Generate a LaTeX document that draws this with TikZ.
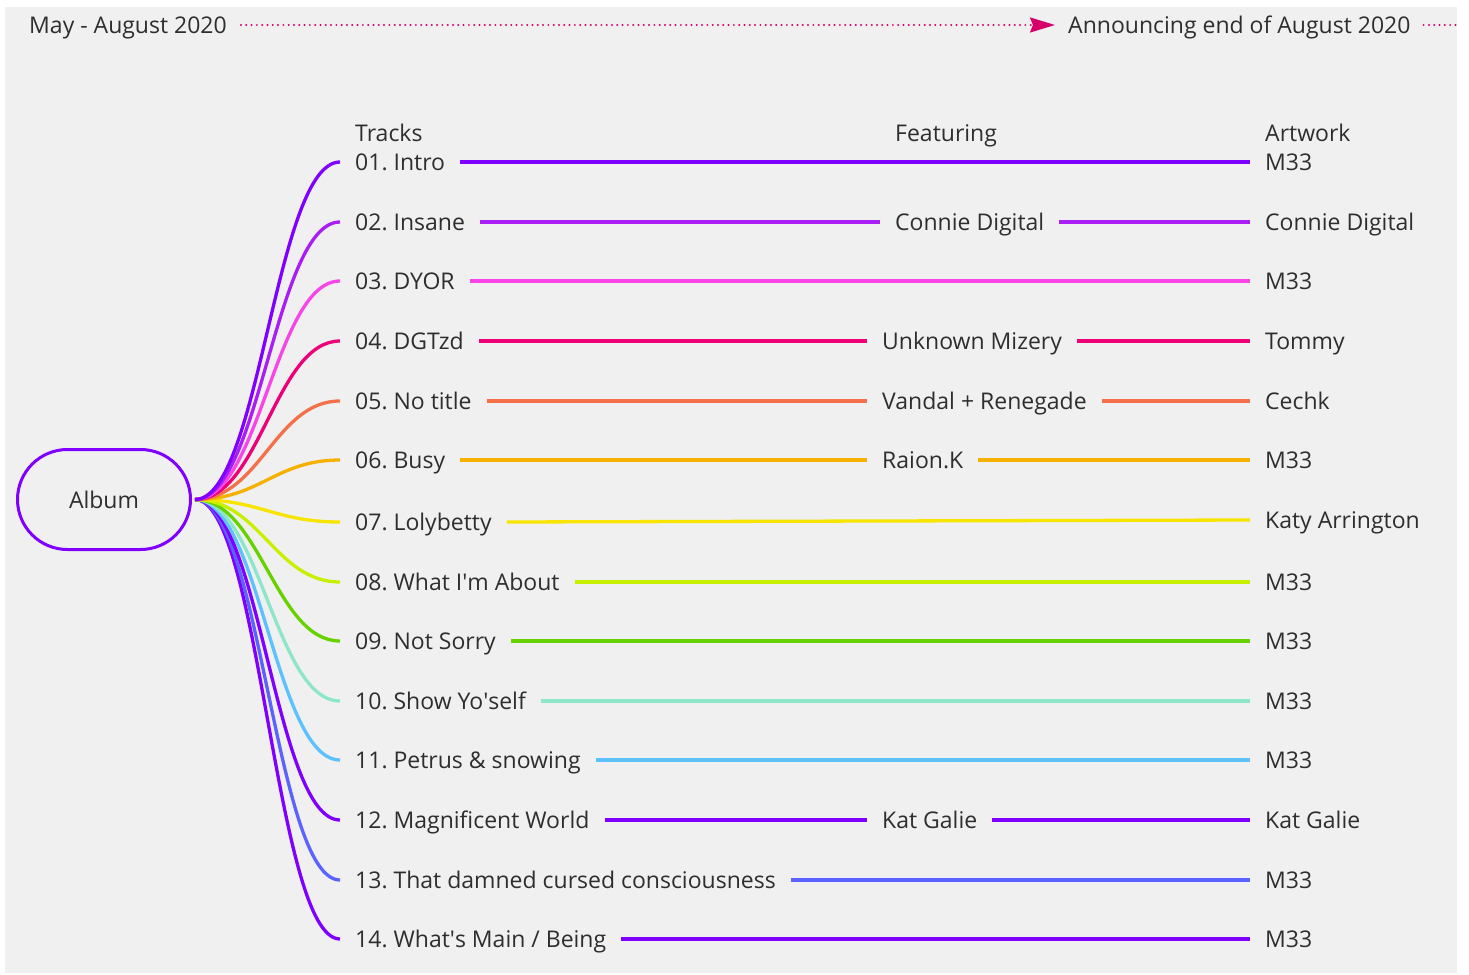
\documentclass[tikz,border=0pt]{standalone}
\usepackage{fontspec}
\setmainfont{Open Sans}
\usetikzlibrary{arrows.meta}
\frenchspacing
\definecolor{bg}{HTML}{F0F0F0}
\definecolor{txt}{HTML}{2E2E2E}
\definecolor{dotc}{HTML}{D6006A}
\definecolor{c1}{HTML}{7F00FF}
\definecolor{c2}{HTML}{A81EF5}
\definecolor{c3}{HTML}{F845E8}
\definecolor{c4}{HTML}{EE0077}
\definecolor{c5}{HTML}{F4704A}
\definecolor{c6}{HTML}{F5B000}
\definecolor{c7}{HTML}{F7E400}
\definecolor{c8}{HTML}{C6F000}
\definecolor{c9}{HTML}{66D200}
\definecolor{c10}{HTML}{8EE6C9}
\definecolor{c11}{HTML}{5CC1FF}
\definecolor{c12}{HTML}{7F00FF}
\definecolor{c13}{HTML}{5A62FF}
\definecolor{c14}{HTML}{7F00FF}
\tikzset{
  lbl/.style={font=\fontsize{23}{27}\selectfont, text=txt, inner xsep=15pt, inner ysep=0pt,
    text height=16.4pt, text depth=0pt, anchor=west},
  link/.style={draw=#1, line width=3.3pt},
  branch/.style={draw=#1, line width=3.3pt},
  dotline/.style={draw=dotc, line width=2.2pt, line cap=round, dash pattern=on 0pt off 5.3pt},
}
\begin{document}
\begin{tikzpicture}[x=1pt,y=-1pt]
\useasboundingbox (0,0) rectangle (1469,974);
\fill[white] (0,0) rectangle (1469,974);
\fill[bg] (5,7) rectangle (1457,973);

% top timeline
\node[lbl, inner xsep=14pt] (may) at (15,25) {May - August 2020};
\node[lbl, inner xsep=13pt] (ann) at (1055,25) {Announcing end of August 2020};
\coordinate (rend) at (1457,25);
\draw[dotline, -{Stealth[length=25pt,width=15pt,inset=3pt,fill=dotc]}] (may.east) -- (ann.west);
\draw[dotline] (ann.east) -- (rend);

% album
\node[draw=c1, line width=3pt, rounded corners=50pt, minimum width=173pt, minimum height=100pt,
  inner sep=0pt, font=\fontsize{23}{27}\selectfont, text=txt] (album) at (104,499.5) {Album};

% headers
\node[lbl] (hT) at (340,133) {Tracks};
\node[lbl] (hF) at (880,133) {Featuring};
\node[lbl] (hA) at (1250,133) {Artwork};

% tracks
\node[lbl] (t1) at (340,162) {01. Intro};
\node[lbl] (t2) at (340,222) {02. Insane};
\node[lbl] (t3) at (340,281) {03. DYOR};
\node[lbl] (t4) at (340,341) {04. DGTzd};
\node[lbl] (t5) at (340,401) {05. No title};
\node[lbl] (t6) at (340,460) {06. Busy};
\node[lbl] (t7) at (340,522) {07. Lolybetty};
\node[lbl] (t8) at (340,582) {08. What I\textquotesingle m About};
\node[lbl] (t9) at (340,641) {09. Not Sorry};
\node[lbl] (t10) at (340,701) {10. Show Yo\textquotesingle self};
\node[lbl] (t11) at (340,760) {11. Petrus \& snowing};
\node[lbl] (t12) at (340,820) {12. Magnificent World};
\node[lbl] (t13) at (340,880) {13. That damned cursed consciousness};
\node[lbl] (t14) at (340,939) {14. What\textquotesingle s Main / Being};

% featuring
\node[lbl] (f2) at (880,222) {Connie Digital};
\node[lbl] (f4) at (867,341) {Unknown Mizery};
\node[lbl] (f5) at (867,401) {Vandal + Renegade};
\node[lbl] (f6) at (867,460) {Raion.K};
\node[lbl] (f12) at (867,820) {Kat Galie};

% artwork
\node[lbl] (a1) at (1250,162) {M33};
\node[lbl] (a2) at (1250,222) {Connie Digital};
\node[lbl] (a3) at (1250,281) {M33};
\node[lbl] (a4) at (1250,341) {Tommy};
\node[lbl] (a5) at (1250,401) {Cechk};
\node[lbl] (a6) at (1250,460) {M33};
\node[lbl] (a7) at (1250,520) {Katy Arrington};
\node[lbl] (a8) at (1250,582) {M33};
\node[lbl] (a9) at (1250,641) {M33};
\node[lbl] (a10) at (1250,701) {M33};
\node[lbl] (a11) at (1250,760) {M33};
\node[lbl] (a12) at (1250,820) {Kat Galie};
\node[lbl] (a13) at (1250,880) {M33};
\node[lbl] (a14) at (1250,939) {M33};

% branches
\foreach \i in {14,13,12,11,10,9,8,7,6,5,4,3,2,1}{
  \draw[branch=c\i] ([xshift=3pt]album.east) .. controls +(65,0) and +(-65,0) .. (t\i.west);
}

% links
\draw[link=c1] (t1.east) -- (a1.west);
\draw[link=c2] (t2.east) -- (f2.west);
\draw[link=c2] (f2.east) -- (a2.west);
\draw[link=c3] (t3.east) -- (a3.west);
\draw[link=c4] (t4.east) -- (f4.west);
\draw[link=c4] (f4.east) -- (a4.west);
\draw[link=c5] (t5.east) -- (f5.west);
\draw[link=c5] (f5.east) -- (a5.west);
\draw[link=c6] (t6.east) -- (f6.west);
\draw[link=c6] (f6.east) -- (a6.west);
\draw[link=c7] (t7.east) -- (a7.west);
\draw[link=c8] (t8.east) -- (a8.west);
\draw[link=c9] (t9.east) -- (a9.west);
\draw[link=c10] (t10.east) -- (a10.west);
\draw[link=c11] (t11.east) -- (a11.west);
\draw[link=c12] (t12.east) -- (f12.west);
\draw[link=c12] (f12.east) -- (a12.west);
\draw[link=c13] (t13.east) -- (a13.west);
\draw[link=c14] (t14.east) -- (a14.west);
\end{tikzpicture}
\end{document}
